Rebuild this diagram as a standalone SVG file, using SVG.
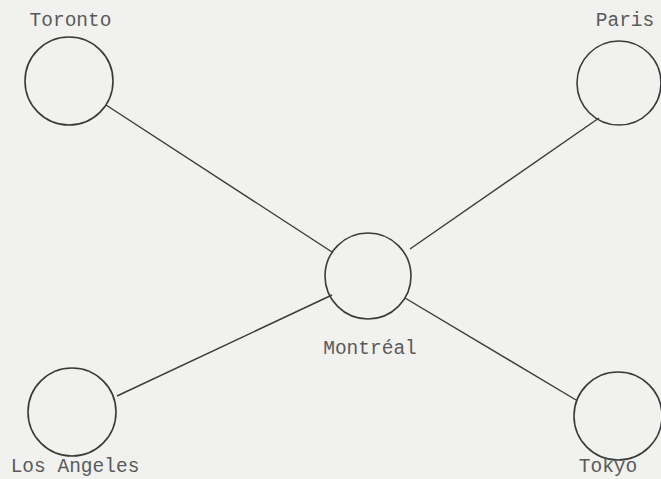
<svg xmlns="http://www.w3.org/2000/svg" width="661" height="479" viewBox="0 0 661 479">
<style>
.node circle{fill:none;stroke:#3a3a3a;stroke-width:1.6}
.node text{font-family:"Liberation Mono","Courier New",monospace;font-size:19.5px;fill:#5a5a5a;text-anchor:middle}
#edges line{stroke:#3a3a3a;stroke-width:1.4}
</style>
<rect width="661" height="479" fill="#f1f1ef"/>
<g id="edges">
<line x1="106" y1="105" x2="332" y2="252"/>
<line x1="599" y1="118" x2="410" y2="249"/>
<line x1="332" y1="295" x2="117" y2="396"/>
<line x1="405" y1="298" x2="576" y2="400"/>
</g>
<g id="toronto" class="node"><circle cx="69" cy="81" r="44"/><text x="70.5" y="26">Toronto</text></g>
<g id="paris" class="node"><circle cx="619" cy="83" r="42"/><text x="625" y="26">Paris</text></g>
<g id="montreal" class="node"><circle cx="368" cy="276" r="43"/><text x="370" y="354">Montréal</text></g>
<g id="losangeles" class="node"><circle cx="72" cy="412" r="44"/><text x="75" y="472">Los Angeles</text></g>
<g id="tokyo" class="node"><circle cx="618" cy="416" r="44"/><text x="608" y="472">Tokyo</text></g>
</svg>
